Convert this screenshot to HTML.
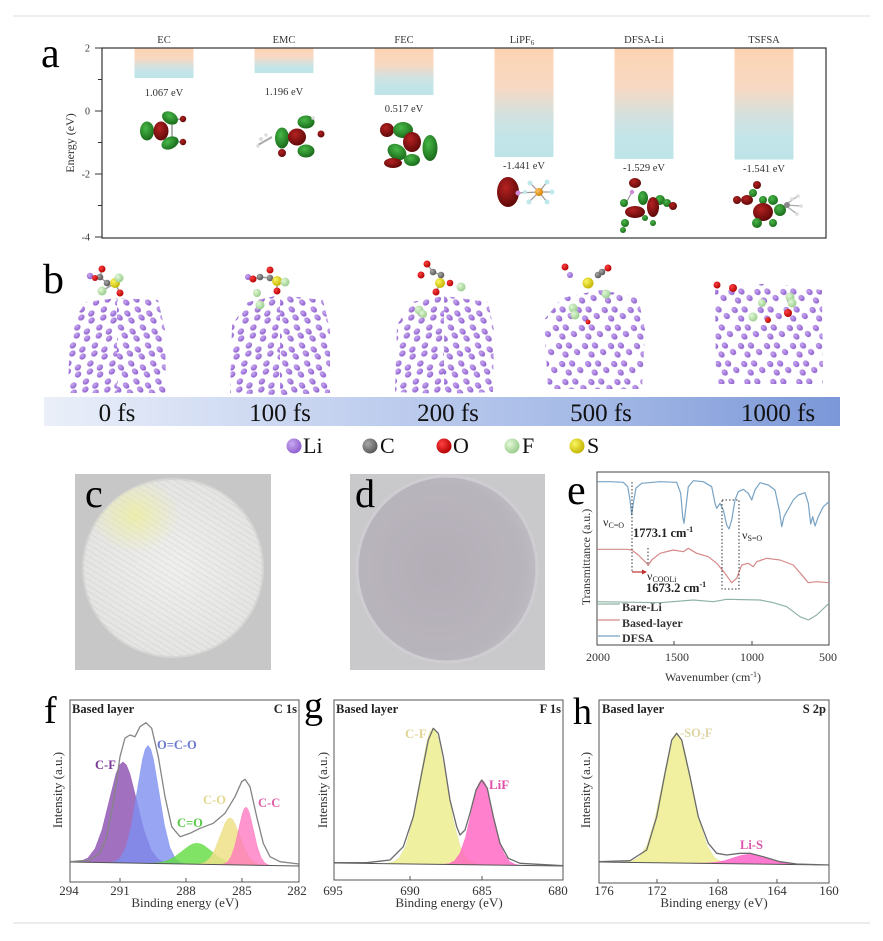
<!DOCTYPE html>
<html><head><meta charset="utf-8"><style>
html,body{margin:0;padding:0;background:#fff;}
svg{display:block;}
text{font-family:"Liberation Serif",serif;}
</style></head><body>
<svg width="883" height="941" viewBox="0 0 883 941" xmlns="http://www.w3.org/2000/svg">
<defs>
<linearGradient id="bar" x1="0" y1="0" x2="0" y2="1">
<stop offset="0" stop-color="#fcd4b2"/><stop offset="0.35" stop-color="#f8d8c2"/><stop offset="0.62" stop-color="#d2e1df"/><stop offset="0.82" stop-color="#c2e5e9"/><stop offset="1" stop-color="#bee4e8"/>
</linearGradient>
<radialGradient id="gG" cx="0.4" cy="0.35" r="0.7"><stop offset="0" stop-color="#48b848"/><stop offset="1" stop-color="#176617"/></radialGradient>
<radialGradient id="gR" cx="0.4" cy="0.35" r="0.7"><stop offset="0" stop-color="#b52222"/><stop offset="1" stop-color="#5a0707"/></radialGradient>
<radialGradient id="gLi" cx="0.35" cy="0.35" r="0.7"><stop offset="0" stop-color="#c9a9f2"/><stop offset="1" stop-color="#8c5ccc"/></radialGradient>
<radialGradient id="gC" cx="0.35" cy="0.35" r="0.7"><stop offset="0" stop-color="#a8a8a8"/><stop offset="1" stop-color="#555"/></radialGradient>
<radialGradient id="gO" cx="0.35" cy="0.35" r="0.7"><stop offset="0" stop-color="#ff4040"/><stop offset="1" stop-color="#b00000"/></radialGradient>
<radialGradient id="gF" cx="0.35" cy="0.35" r="0.7"><stop offset="0" stop-color="#e2f8d6"/><stop offset="1" stop-color="#98cc8c"/></radialGradient>
<radialGradient id="gS" cx="0.35" cy="0.35" r="0.7"><stop offset="0" stop-color="#fbf760"/><stop offset="1" stop-color="#c2b200"/></radialGradient>
<radialGradient id="gP" cx="0.35" cy="0.35" r="0.7"><stop offset="0" stop-color="#ffc060"/><stop offset="1" stop-color="#d08000"/></radialGradient>
<linearGradient id="banner" x1="0" y1="0" x2="1" y2="0">
<stop offset="0" stop-color="#eaeff9"/><stop offset="0.35" stop-color="#c6d3f0"/><stop offset="0.7" stop-color="#a3b8e6"/><stop offset="1" stop-color="#7b97d7"/>
</linearGradient>
<pattern id="stripes" width="5" height="5" patternUnits="userSpaceOnUse" patternTransform="rotate(-58)">
<line x1="0" y1="0" x2="0" y2="5" stroke="#bdbdbd" stroke-width="1" stroke-opacity="0.55"/>
</pattern>
<pattern id="pL" width="22" height="18" patternUnits="userSpaceOnUse" patternTransform="skewX(-14)">
<circle cx="5" cy="3.5" r="3.1" fill="url(#gLi)"/><circle cx="6.5" cy="11.5" r="3.1" fill="url(#gLi)"/>
<circle cx="15.5" cy="7.5" r="3.1" fill="url(#gLi)"/><circle cx="17.5" cy="14.5" r="3.1" fill="url(#gLi)"/>
</pattern>
<pattern id="pR" width="22" height="18" patternUnits="userSpaceOnUse" patternTransform="skewX(16)">
<circle cx="5" cy="3.5" r="3.1" fill="url(#gLi)"/><circle cx="6.5" cy="11.5" r="3.1" fill="url(#gLi)"/>
<circle cx="15.5" cy="7.5" r="3.1" fill="url(#gLi)"/><circle cx="17.5" cy="14.5" r="3.1" fill="url(#gLi)"/>
</pattern>
<pattern id="pD" width="26" height="18" patternUnits="userSpaceOnUse" patternTransform="skewX(10)">
<circle cx="4" cy="4" r="3.1" fill="url(#gLi)"/><circle cx="14" cy="3.5" r="3.1" fill="url(#gLi)"/>
<circle cx="21" cy="10" r="3.1" fill="url(#gLi)"/><circle cx="9" cy="12.5" r="3.1" fill="url(#gLi)"/>
</pattern>
<radialGradient id="yel" cx="0.5" cy="0.5" r="0.5"><stop offset="0" stop-color="#eef09a" stop-opacity="0.75"/><stop offset="1" stop-color="#eef09a" stop-opacity="0"/></radialGradient>
<radialGradient id="gd" cx="0.45" cy="0.5" r="0.6"><stop offset="0" stop-color="#b3adb6"/><stop offset="0.8" stop-color="#b9b5bd"/><stop offset="1" stop-color="#c3c0c7"/></radialGradient>
<radialGradient id="gc" cx="0.5" cy="0.5" r="0.6"><stop offset="0" stop-color="#efefee"/><stop offset="1" stop-color="#e2e2e0"/></radialGradient>
<clipPath id="clipc"><ellipse cx="173" cy="568" rx="90" ry="89"/></clipPath>
</defs>

<rect width="883" height="941" fill="#fff"/>
<line x1="13" y1="16" x2="870" y2="16" stroke="#e4e4e4" stroke-width="1.2"/>
<line x1="13" y1="923" x2="870" y2="923" stroke="#e0e0e0" stroke-width="1.2"/>

<!-- ===== Panel a ===== -->
<text x="41" y="67" font-size="42">a</text>
<g>
<rect x="134.5" y="48" width="59" height="30" fill="url(#bar)"/>
<rect x="254.5" y="48" width="59" height="25" fill="url(#bar)"/>
<rect x="374.5" y="48" width="59" height="47" fill="url(#bar)"/>
<rect x="494.5" y="48" width="59" height="109" fill="url(#bar)"/>
<rect x="614.5" y="48" width="59" height="111" fill="url(#bar)"/>
<rect x="734.5" y="48" width="59" height="111.5" fill="url(#bar)"/>
</g>
<rect x="102" y="48" width="724" height="190" fill="none" stroke="#333" stroke-width="1.2"/>
<g stroke="#333" stroke-width="1">
<line x1="95" y1="48" x2="102" y2="48"/><line x1="95" y1="111" x2="102" y2="111"/><line x1="95" y1="174" x2="102" y2="174"/><line x1="95" y1="237" x2="102" y2="237"/>
<line x1="98" y1="79.5" x2="102" y2="79.5"/><line x1="98" y1="142.5" x2="102" y2="142.5"/><line x1="98" y1="205.5" x2="102" y2="205.5"/>
</g>
<g font-size="10" fill="#333" text-anchor="end">
<text x="90" y="51.5">2</text><text x="90" y="114.5">0</text><text x="90" y="177.5">-2</text><text x="90" y="240.5">-4</text>
</g>
<text transform="translate(74,143) rotate(-90)" font-size="12" fill="#333" text-anchor="middle">Energy (eV)</text>
<g font-size="10.5" fill="#333" text-anchor="middle">
<text x="164" y="43">EC</text><text x="284" y="43">EMC</text><text x="404" y="43">FEC</text>
<text x="522" y="43">LiPF<tspan font-size="7" dy="2">6</tspan></text>
<text x="644" y="43">DFSA-Li</text><text x="764" y="43">TSFSA</text>
<text x="164" y="96">1.067 eV</text><text x="284" y="95">1.196 eV</text><text x="404" y="112">0.517 eV</text>
<text x="524" y="169">-1.441 eV</text><text x="644" y="171">-1.529 eV</text><text x="764" y="172">-1.541 eV</text>
</g>
<!-- EC orbital -->
<g>
<line x1="170" y1="120" x2="183" y2="119" stroke="#999" stroke-width="1.5"/><line x1="170" y1="142" x2="183" y2="142" stroke="#999" stroke-width="1.5"/>
<line x1="172" y1="125" x2="172" y2="138" stroke="#999" stroke-width="1.5"/>
<ellipse cx="147" cy="131" rx="7" ry="9.5" fill="url(#gG)"/>
<ellipse cx="161" cy="131" rx="7.5" ry="9.5" fill="url(#gR)"/>
<ellipse cx="170" cy="118" rx="8.5" ry="6" transform="rotate(30 170 118)" fill="url(#gG)"/>
<ellipse cx="170" cy="143" rx="9" ry="6" transform="rotate(-25 170 143)" fill="url(#gG)"/>
<circle cx="183" cy="119" r="3.2" fill="url(#gR)"/><circle cx="183" cy="142" r="3.2" fill="url(#gR)"/>
</g>
<!-- EMC orbital -->
<g>
<line x1="258" y1="145" x2="272" y2="137" stroke="#aaa" stroke-width="2"/>
<circle cx="261" cy="139" r="2" fill="#ddd"/><circle cx="258" cy="146" r="1.8" fill="#ddd"/><circle cx="266" cy="135" r="1.8" fill="#ddd"/>
<ellipse cx="282" cy="138" rx="7" ry="10.5" fill="url(#gG)"/>
<ellipse cx="297" cy="137" rx="9" ry="8.5" fill="url(#gR)"/>
<ellipse cx="306" cy="122" rx="8.5" ry="6.5" fill="url(#gG)"/>
<ellipse cx="306" cy="151" rx="8.5" ry="6.5" fill="url(#gG)"/>
<circle cx="282" cy="153" r="4" fill="url(#gR)"/>
<circle cx="321" cy="134" r="3.5" fill="url(#gR)"/>
<circle cx="313" cy="118" r="1.8" fill="#ddd"/>
</g>
<!-- FEC orbital -->
<g>
<ellipse cx="387" cy="130" rx="7" ry="7" fill="url(#gR)"/>
<ellipse cx="403" cy="130" rx="10" ry="8" fill="url(#gG)"/>
<ellipse cx="397" cy="152" rx="10" ry="7.5" transform="rotate(30 397 152)" fill="url(#gG)"/>
<ellipse cx="393" cy="163" rx="9" ry="5" fill="url(#gR)"/>
<ellipse cx="412" cy="142" rx="9" ry="10" fill="url(#gR)"/>
<ellipse cx="430" cy="148" rx="7.5" ry="13" fill="url(#gG)"/>
<ellipse cx="412" cy="160" rx="8" ry="6" fill="url(#gG)"/>
</g>
<!-- LiPF6 -->
<g>
<g stroke="#999" stroke-width="1.2">
<line x1="518" y1="193" x2="539" y2="192"/><line x1="539" y1="192" x2="530" y2="183"/><line x1="539" y1="192" x2="547" y2="182"/>
<line x1="539" y1="192" x2="529" y2="202"/><line x1="539" y1="192" x2="547" y2="202"/><line x1="539" y1="192" x2="552" y2="192"/>
</g>
<ellipse cx="508" cy="192" rx="11" ry="15" fill="url(#gR)"/>
<circle cx="518" cy="193" r="2.5" fill="#d08ad8"/>
<circle cx="539" cy="192" r="4" fill="url(#gP)"/>
<g fill="#bfe8ea"><circle cx="530" cy="183" r="2.5"/><circle cx="547" cy="182" r="2.5"/><circle cx="529" cy="202" r="2.5"/><circle cx="547" cy="202" r="2.5"/><circle cx="552" cy="192" r="2.5"/><circle cx="525" cy="192" r="2"/></g>
</g>
<!-- DFSA-Li -->
<g>
<line x1="632" y1="192" x2="626" y2="203" stroke="#999" stroke-width="1.2"/>
<ellipse cx="635" cy="183" rx="6" ry="5" fill="url(#gR)"/>
<circle cx="632" cy="192" r="2.2" fill="#d08ad8"/>
<circle cx="624" cy="203" r="4" fill="url(#gG)"/>
<ellipse cx="643" cy="198" rx="5" ry="7" fill="url(#gG)"/>
<ellipse cx="660" cy="200" rx="5" ry="5" fill="url(#gG)"/>
<ellipse cx="653" cy="207" rx="6" ry="10" fill="url(#gR)"/>
<circle cx="667" cy="203" r="4" fill="url(#gG)"/>
<circle cx="673" cy="206" r="4" fill="url(#gR)"/>
<ellipse cx="635" cy="212" rx="10" ry="6" fill="url(#gR)"/>
<circle cx="625" cy="223" r="4" fill="url(#gG)"/>
<circle cx="653" cy="223" r="3" fill="url(#gG)"/>
<circle cx="623" cy="230" r="3" fill="url(#gG)"/>
<circle cx="645" cy="218" r="3" fill="url(#gG)"/>
</g>
<!-- TSFSA -->
<g>
<g stroke="#aaa" stroke-width="1.2"><line x1="785" y1="205" x2="798" y2="196"/><line x1="785" y1="205" x2="801" y2="206"/><line x1="785" y1="205" x2="797" y2="214"/></g>
<circle cx="757" cy="185" r="4" fill="url(#gR)"/>
<circle cx="753" cy="193" r="4" fill="url(#gG)"/>
<circle cx="737" cy="200" r="4" fill="url(#gR)"/>
<ellipse cx="747" cy="200" rx="6" ry="5" fill="url(#gR)"/>
<circle cx="763" cy="200" r="4" fill="url(#gG)"/>
<circle cx="773" cy="200" r="5" fill="url(#gG)"/>
<ellipse cx="780" cy="210" rx="6" ry="6" fill="url(#gG)"/>
<ellipse cx="763" cy="212" rx="10" ry="9" fill="url(#gR)"/>
<circle cx="757" cy="223" r="5" fill="url(#gG)"/>
<circle cx="773" cy="223" r="4" fill="url(#gG)"/>
<circle cx="787" cy="205" r="3" fill="#888"/>
<g fill="#ddd"><circle cx="798" cy="196" r="1.8"/><circle cx="801" cy="206" r="1.8"/><circle cx="797" cy="214" r="1.8"/><circle cx="792" cy="199" r="1.8"/></g>
</g>

<!-- ===== Panel b ===== -->
<text x="43" y="293" font-size="42">b</text>
<g>
<polygon points="86,302 117,298 117,393 68,393 70,325" fill="url(#pL)"/>
<polygon points="117,298 158,300 165,330 166,393 117,393" fill="url(#pR)"/>
<polygon points="248,302 280,295 280,395 230,393 232,325" fill="url(#pL)"/>
<polygon points="280,295 323,300 330,330 330,393 280,395" fill="url(#pR)"/>
<polygon points="412,302 444,296 444,394 395,392 397,325" fill="url(#pL)"/>
<polygon points="444,296 488,302 494,330 493,392 444,394" fill="url(#pR)"/>
<polygon points="562,298 600,290 638,297 645,330 642,389 548,389 544,320" fill="url(#pD)"/>
<polygon points="715,290 770,283 822,290 823,384 716,384" fill="url(#pD)"/>
</g>
<g>
<g stroke="#999" stroke-width="1.4">
<line x1="102" y1="269" x2="100" y2="277"/><line x1="100" y1="277" x2="107" y2="283"/><line x1="107" y1="283" x2="115" y2="283"/><line x1="115" y1="283" x2="119" y2="278"/><line x1="115" y1="283" x2="120" y2="293"/><line x1="115" y1="283" x2="102" y2="291"/>
<line x1="253" y1="279" x2="260" y2="277"/><line x1="260" y1="277" x2="270" y2="278"/><line x1="270" y1="278" x2="277" y2="281"/><line x1="277" y1="281" x2="277" y2="291"/>
<line x1="427" y1="264" x2="433" y2="272"/><line x1="433" y1="272" x2="441" y2="275"/><line x1="441" y1="275" x2="440" y2="283"/><line x1="440" y1="283" x2="436" y2="292"/>
<line x1="598" y1="275" x2="608" y2="268"/>
</g>
<circle cx="90" cy="276" r="3.2" fill="url(#gLi)"/><circle cx="102" cy="269" r="3.5" fill="url(#gO)"/><circle cx="100" cy="277" r="3.3" fill="url(#gC)"/><circle cx="107" cy="283" r="3.3" fill="url(#gC)"/><circle cx="95" cy="278" r="3" fill="url(#gO)"/>
<circle cx="115" cy="283" r="5" fill="url(#gS)"/><circle cx="119" cy="278" r="4.5" fill="url(#gF)"/><circle cx="102" cy="291" r="4.5" fill="url(#gF)"/><circle cx="120" cy="293" r="3.5" fill="url(#gO)"/>

<circle cx="248" cy="277" r="3" fill="url(#gLi)"/><circle cx="253" cy="279" r="3.5" fill="url(#gO)"/><circle cx="270" cy="270" r="3.5" fill="url(#gO)"/><circle cx="260" cy="277" r="3.3" fill="url(#gC)"/><circle cx="270" cy="278" r="3.3" fill="url(#gC)"/>
<circle cx="277" cy="281" r="5" fill="url(#gS)"/><circle cx="285" cy="282" r="4.5" fill="url(#gF)"/><circle cx="277" cy="291" r="3.5" fill="url(#gO)"/><circle cx="257" cy="293" r="4" fill="url(#gF)"/><circle cx="260" cy="305" r="4.5" fill="url(#gF)"/>

<circle cx="427" cy="264" r="3.5" fill="url(#gO)"/><circle cx="433" cy="272" r="3.3" fill="url(#gC)"/><circle cx="421" cy="275" r="3.5" fill="url(#gO)"/><circle cx="441" cy="275" r="3.3" fill="url(#gC)"/>
<circle cx="440" cy="283" r="5" fill="url(#gS)"/><circle cx="436" cy="292" r="3.5" fill="url(#gO)"/><circle cx="450" cy="283" r="3.3" fill="url(#gO)"/><circle cx="461" cy="287" r="4.5" fill="url(#gF)"/><circle cx="419" cy="310" r="4.5" fill="url(#gF)"/><circle cx="423" cy="314" r="4" fill="url(#gF)"/>

<circle cx="565" cy="267" r="3.5" fill="url(#gO)"/><circle cx="570" cy="275" r="3" fill="url(#gLi)"/><circle cx="588" cy="283" r="5.5" fill="url(#gS)"/><circle cx="598" cy="275" r="3.3" fill="url(#gC)"/><circle cx="602" cy="272" r="3.3" fill="url(#gC)"/><circle cx="608" cy="268" r="3.5" fill="url(#gO)"/>
<circle cx="606" cy="294" r="4.5" fill="url(#gF)"/><circle cx="573" cy="308" r="4.5" fill="url(#gF)"/><circle cx="575" cy="315" r="4.5" fill="url(#gF)"/><circle cx="588" cy="322" r="2.5" fill="url(#gO)"/>

<circle cx="717" cy="285" r="3.5" fill="url(#gO)"/><circle cx="733" cy="288" r="4" fill="url(#gO)"/><circle cx="790" cy="297" r="4.5" fill="url(#gF)"/><circle cx="792" cy="303" r="4.5" fill="url(#gF)"/><circle cx="788" cy="313" r="4" fill="url(#gO)"/><circle cx="753" cy="317" r="4.5" fill="url(#gF)"/><circle cx="762" cy="303" r="4" fill="url(#gF)"/><circle cx="768" cy="320" r="3" fill="url(#gO)"/>
</g>
<rect x="44" y="397" width="796" height="29" fill="url(#banner)"/>
<g font-size="25" fill="#111" text-anchor="middle">
<text x="117" y="421">0 fs</text><text x="280" y="421">100 fs</text><text x="448" y="421">200 fs</text><text x="601" y="421">500 fs</text><text x="778" y="421">1000 fs</text>
</g>
<g font-size="22" fill="#111">
<circle cx="294" cy="446" r="7.5" fill="url(#gLi)"/><text x="303" y="453">Li</text>
<circle cx="370" cy="446" r="7.5" fill="url(#gC)"/><text x="380" y="453">C</text>
<circle cx="444" cy="446" r="7.5" fill="url(#gO)"/><text x="453" y="453">O</text>
<circle cx="512" cy="446" r="7.5" fill="url(#gF)"/><text x="522" y="453">F</text>
<circle cx="577" cy="446" r="7.5" fill="url(#gS)"/><text x="587" y="453">S</text>
</g>

<!-- ===== Panel c / d ===== -->
<rect x="75" y="474" width="196" height="196" fill="#c7c7c7"/>
<ellipse cx="173" cy="568" rx="90" ry="89" fill="url(#gc)" stroke="#d6d6d4" stroke-width="2"/>
<g clip-path="url(#clipc)">
<rect x="80" y="475" width="190" height="190" fill="url(#stripes)"/>
<ellipse cx="135" cy="515" rx="45" ry="38" fill="url(#yel)"/>
</g>
<text x="85" y="507" font-size="40">c</text>
<rect x="350" y="474" width="195" height="196" fill="#c9c9cb"/>
<ellipse cx="447" cy="569" rx="90" ry="93" fill="url(#gd)" stroke="#cfcdd2" stroke-width="3"/>
<text x="355" y="507" font-size="40">d</text>

<!-- ===== Panel e ===== -->
<text x="567" y="504" font-size="42">e</text>
<rect x="597" y="472" width="232" height="173" fill="none" stroke="#444" stroke-width="1"/>
<g stroke="#444" stroke-width="1">
<line x1="674" y1="645" x2="674" y2="641"/><line x1="752" y1="645" x2="752" y2="641"/>
</g>
<polyline fill="none" stroke="#78a3c4" stroke-width="1.2" stroke-linejoin="round" points="597.3,481.7 610,481.7 623.3,482.3 627.7,486.7 630,500 631.7,515 633.3,503.3 636,488 641.7,483.3 660,481.7 676.7,482.3 680.7,493.3 682.7,516.7 684,523.3 686,506.7 688.3,486.7 693.3,480.7 703.3,481.7 711.7,486.7 715,503.3 716.7,508.3 720,503.3 723.3,510 726.7,525 729,529 731.7,520 735,500 738.3,491.7 743.3,489.3 748.3,493.3 751.7,500 755,490 760,482.7 768.3,485 775,490 779.3,510 781.7,526.7 784,516.7 786.7,511.7 793.3,500 798.3,495 805,492.7 808.3,503.3 810.7,524 812.7,516.7 815,526 818.3,516.7 823.3,506.7 829,501.7"/>
<polyline fill="none" stroke="#d68989" stroke-width="1.2" stroke-linejoin="round" points="597.3,549.3 626.7,549.3 631.7,550 638.3,555 645,561.7 648.3,565 651.7,560 660,553.3 673.3,550 683.3,551.7 688.3,548.3 696.7,553.3 708.3,556.7 716.7,563.3 725,573.3 731.7,582.7 736.7,578.3 741.7,565 748.3,563.3 753.3,566.7 756.7,561.7 766.7,558.3 780,560 793.3,565 803.3,576.7 808.3,582.7 816.7,581.7 829,582.7"/>
<polyline fill="none" stroke="#8fb3a3" stroke-width="1.2" stroke-linejoin="round" points="597.3,601.7 660,602.7 693.3,600 713.3,601.7 726.7,599.3 760,600 773.3,602.7 786.7,606.7 800,616.7 808.3,620 816.7,615 829,603.3"/>
<g stroke="#333" stroke-width="1" stroke-dasharray="1.5,2" fill="none">
<line x1="632" y1="482" x2="632" y2="572"/>
<line x1="648" y1="548" x2="648" y2="566"/>
<rect x="722" y="500" width="17" height="89"/>
</g>
<line x1="632" y1="572" x2="644" y2="572" stroke="#c03030" stroke-width="1.2"/>
<polygon points="647,572 642,569.5 642,574.5" fill="#c03030"/>
<g fill="#222">
<text x="603" y="526" font-size="12">ν<tspan font-size="8" dy="2">C=O</tspan></text>
<text x="633" y="537" font-size="12.5" font-weight="bold">1773.1 cm<tspan font-size="8" dy="-5">-1</tspan></text>
<text x="742" y="539" font-size="12">ν<tspan font-size="8" dy="2">S=O</tspan></text>
<text x="647" y="580" font-size="12">ν<tspan font-size="8" dy="2">COOLi</tspan></text>
<text x="646" y="592" font-size="12.5" font-weight="bold">1673.2 cm<tspan font-size="8" dy="-5">-1</tspan></text>
</g>
<line x1="598" y1="604" x2="620" y2="604" stroke="#8fb3a3" stroke-width="1.2"/>
<line x1="598" y1="620" x2="620" y2="620" stroke="#d68989" stroke-width="1.2"/>
<line x1="598" y1="636" x2="620" y2="636" stroke="#78a3c4" stroke-width="1.2"/>
<g font-size="12" font-weight="bold" fill="#333">
<text x="622" y="611">Bare-Li</text><text x="622" y="627">Based-layer</text><text x="622" y="642">DFSA</text>
</g>
<g font-size="12" fill="#333" text-anchor="middle">
<text x="598" y="661">2000</text><text x="677" y="661">1500</text><text x="752" y="661">1000</text><text x="828" y="661">500</text>
<text x="713" y="681">Wavenumber (cm<tspan font-size="8" dy="-4">-1</tspan><tspan dy="4">)</tspan></text>
</g>
<text transform="translate(590,557) rotate(-90)" font-size="12" fill="#333" text-anchor="middle">Transmittance (a.u.)</text>

<!-- ===== Panel f components ===== -->
<g stroke-width="0.6" stroke-opacity="0.6">
<polygon fill="#8a4cae" fill-opacity="0.8" stroke="#8a4cae" points="74,862.1 81,861.1 88,857.9 95,848.7 102,829.8 109,801.4 116,773.7 119.5,765 123,761.9 126.5,765.1 130,774 137,801.9 144,830.5 151,849.7 158,859.1 165,862.6 172,863.6"/>
<polygon fill="#7d8ff0" fill-opacity="0.8" stroke="#7d8ff0" points="109.5,862.4 115,861.5 120.5,857.7 126,847 131.5,824.8 137,791.6 142.5,759.2 145.25,749 148,745.4 150.75,749.1 153.5,759.4 159,792 164.5,825.4 170,847.8 175.5,858.7 181,862.7 186.5,863.8"/>
<polygon fill="#62dc40" fill-opacity="0.8" stroke="#62dc40" points="144.5,863.3 152,863.2 159.5,862.5 167,860.8 174.5,857 182,851.3 189.5,845.6 193.25,843.8 197,843.2 200.75,843.9 204.5,845.8 212,851.7 219.5,857.6 227,861.6 234.5,863.9 242,864.8 249.5,865.1"/>
<polygon fill="#eee088" fill-opacity="0.85" stroke="#e6d880" points="195,864.1 200,863.8 205,862.3 210,858 215,849.3 220,836.2 225,823.4 227.5,819.2 230,817.8 232.5,819.3 235,823.5 240,836.5 245,849.8 250,858.7 255,863.2 260,864.8 265,865.3"/>
<polygon fill="#ff72bd" fill-opacity="0.75" stroke="#ff72bd" points="219.75,864.5 223.5,864 227.25,862.2 231,857 234.75,846.1 238.5,829.9 242.25,813.9 244.1,808.9 246,807.1 247.9,809 249.75,814 253.5,830.1 257.25,846.4 261,857.4 264.75,862.9 268.5,864.9 272.25,865.5"/>
</g>
<line x1="70" y1="862" x2="299" y2="866" stroke="#555" stroke-width="1"/>
<polyline fill="none" stroke="#858585" stroke-width="1.3" stroke-linejoin="round" points="70,861.7 90,860 100,853 106.7,836.7 113.3,803 120,756.7 125,738 130,735 135,736.7 140,726.7 146,722.7 151.7,728.3 158.3,756.7 165,796.7 171.7,826.7 180,836.7 190,833.3 200,828.3 213.3,823.3 225,813.3 235,796.7 241.7,781.7 245,779.3 250,786.7 256.7,816.7 263.3,843.3 270,856.7 280,861.7 299,864"/>

<!-- ===== Panel g components ===== -->
<g stroke-width="0.6" stroke-opacity="0.6">
<polygon fill="#eef096" fill-opacity="0.9" stroke="#e0e088" points="385.75,863.4 392.5,862.3 399.25,857.9 406,845.6 412.75,819.8 419.5,781.7 426.25,744.2 429.6,732.4 433,728.3 436.4,732.5 439.75,744.4 446.5,782 453.25,820.4 460,846.2 466.75,858.8 473.5,863.3 480.25,864.6"/>
<polygon fill="#ff62c2" fill-opacity="0.8" stroke="#ff62c2" points="443.5,864.2 449,863.5 454.5,860.8 460,853.2 465.5,837.2 471,813.2 476.5,789.8 479.25,782.5 482,779.9 484.75,782.5 487.5,790 493,813.5 498.5,837.6 504,853.6 509.5,861.4 515,864.3 520.5,865.2"/>
</g>
<line x1="334" y1="863" x2="563" y2="866" stroke="#555" stroke-width="1"/>
<polyline fill="none" stroke="#6a6a6a" stroke-width="1.3" stroke-linejoin="round" points="334.3,862.7 366.7,862.7 390,860 403.3,846.7 413.3,816.7 421.7,773.3 428.3,740 433.3,728.3 438.3,733.3 443.3,756.7 450,800 456.7,826.7 460,835 465,830 470,813.3 476,790 481.7,780 487.3,788.3 493.3,816.7 500,843.3 508.3,858.3 520,863.3 563,865.7"/>

<!-- ===== Panel h components ===== -->
<g stroke-width="0.6" stroke-opacity="0.6">
<polygon fill="#eeee96" fill-opacity="0.9" stroke="#e0e088" points="610,862 624.5,862 632,861 639.5,856.9 647,845.1 654.5,820.8 662,784.8 669.5,749.1 673.25,738 677,734 680.75,738 684.5,749.2 692,785.1 699.5,821.3 707,845.7 714.5,857.8 722,862.1 729.5,863.4"/>
<polygon fill="#ff62c8" fill-opacity="0.85" stroke="#ff62c8" points="690.5,863.2 699,863.2 707.5,862.9 716,862.2 724.5,860.6 733,857.9 741.5,855.2 750,854 758.5,855.3 767,858.1 775.5,861 784,862.8 792.5,864.1 801,864.6 809.5,864.7"/>
</g>
<line x1="599" y1="862" x2="829" y2="865" stroke="#555" stroke-width="1"/>
<polyline fill="none" stroke="#6a6a6a" stroke-width="1.3" stroke-linejoin="round" points="599,861.7 630,860.7 646.7,850 656.7,816.7 665,773.3 671.7,740 676.7,733.3 681.7,740 690,776.7 698.3,816.7 708.3,843.3 716.7,853.3 726.7,855 740,853.3 750,853.3 763.3,856.7 780,861.7 796.7,864 829.3,865"/>

<!-- ===== Panels f g h frames & text ===== -->
<g fill="none" stroke="#555" stroke-width="1">
<rect x="70" y="700" width="229" height="182"/>
<rect x="334" y="700" width="229" height="180"/>
<rect x="599" y="700" width="230" height="183"/>
</g>
<g stroke="#555" stroke-width="1">
<line x1="120" y1="882" x2="120" y2="878"/><line x1="186" y1="882" x2="186" y2="878"/><line x1="242" y1="882" x2="242" y2="878"/>
<line x1="410" y1="880" x2="410" y2="876"/><line x1="482" y1="880" x2="482" y2="876"/>
<line x1="657" y1="883" x2="657" y2="879"/><line x1="718" y1="883" x2="718" y2="879"/><line x1="777" y1="883" x2="777" y2="879"/>
</g>
<text x="44" y="723" font-size="38">f</text>
<text x="304" y="718" font-size="38">g</text>
<text x="573" y="724" font-size="38">h</text>
<g font-size="12.5" font-weight="bold" fill="#222">
<text x="72" y="713">Based layer</text><text x="297" y="713" text-anchor="end">C 1s</text>
<text x="336" y="713">Based layer</text><text x="561" y="713" text-anchor="end">F 1s</text>
<text x="602" y="713">Based layer</text><text x="826" y="713" text-anchor="end">S 2p</text>
</g>
<g font-size="12.5" font-weight="bold">
<text x="95" y="769" fill="#7b3a96">C-F</text>
<text x="157" y="749" fill="#6b79d0">O=C-O</text>
<text x="177" y="827" fill="#55c844">C=O</text>
<text x="203" y="804" fill="#e3d890">C-O</text>
<text x="258" y="807" fill="#e060a8">C-C</text>
<text x="405" y="738" fill="#e3d594" font-size="13">C-F</text>
<text x="489" y="789" fill="#e050a8" font-size="13">LiF</text>
<text x="680" y="737" fill="#ddd5a5">-SO<tspan font-size="8" dy="2">2</tspan><tspan dy="-2">F</tspan></text>
<text x="740" y="849" fill="#dd55aa">Li-S</text>
</g>
<g font-size="13" fill="#333" text-anchor="middle">
<text x="69" y="895">294</text><text x="120" y="895">291</text><text x="186" y="895">288</text><text x="242" y="895">285</text><text x="297" y="895">282</text>
<text x="333" y="895">695</text><text x="410" y="895">690</text><text x="482" y="895">685</text><text x="558" y="895">680</text>
<text x="604" y="895">176</text><text x="657" y="895">172</text><text x="718" y="895">168</text><text x="777" y="895">164</text><text x="829" y="895">160</text>
<text x="185" y="907">Binding energy (eV)</text>
<text x="449" y="907">Binding energy (eV)</text>
<text x="714" y="907">Binding energy (eV)</text>
</g>
<g font-size="13" fill="#333" text-anchor="middle">
<text transform="translate(62,790) rotate(-90)">Intensity (a.u.)</text>
<text transform="translate(327,790) rotate(-90)">Intensity (a.u.)</text>
<text transform="translate(590,790) rotate(-90)">Intensity (a.u.)</text>
</g>
</svg>
</body></html>
